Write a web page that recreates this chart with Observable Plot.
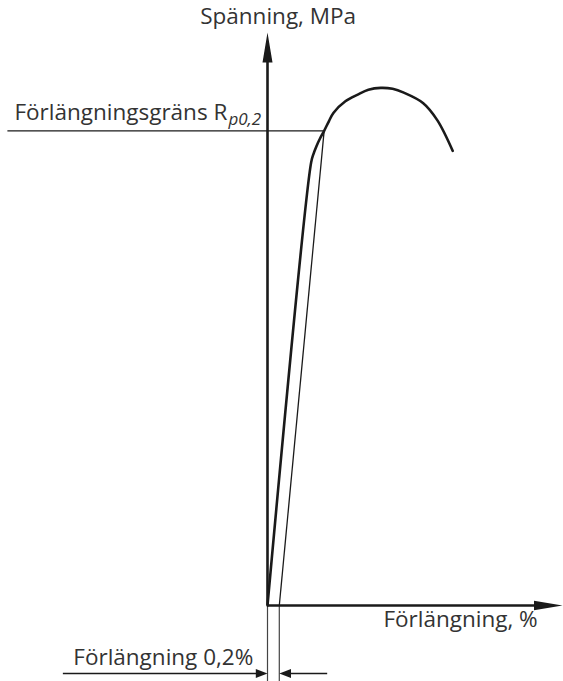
<!DOCTYPE html>
<html>
<head>
<meta charset="utf-8">
<script src="https://cdn.jsdelivr.net/npm/d3@7"></script>
<script src="https://cdn.jsdelivr.net/npm/@observablehq/plot@0.6"></script>
<style>
  html, body { margin: 0; padding: 0; background: #fff; overflow: hidden; }
  #chart svg { display: block; }
</style>
</head>
<body>
<div id="chart"></div>
<script>
// Schematic stress–strain curve with the 0,2 % proof stress construction
const strain = [0, 0.74, 0.78, 0.83, 0.89, 0.96, 1.04, 1.12, 1.32, 1.53, 1.71, 1.92, 2.12, 2.31, 2.64, 2.88, 3.14]; // %
const stress = [0, 464, 473, 481, 489, 497, 507, 516, 528, 535, 540, 542, 541, 537, 526, 508, 476]; // MPa

const offsetStrain = 0.2;   // % plastic offset
const proofStrain = 0.96;   // % where the offset line meets the curve
const proofStress = 497;    // MPa, Rp0,2

const axisMax = {x: 5, y: 600};

const labels = {
  y: "Spänning, MPa",
  x: "Förlängning, %",
  proof: "Förlängningsgräns R",
  proofSub: "p0,2",
  offset: "Förlängning 0,2%"
};

const curve = strain.map((s, i) => ({strain: s, stress: stress[i]}));

// Filled arrowheads: tip at the origin, pointing up
function arrowHead(lengthFactor, widthFactor) {
  return {
    draw(context, size) {
      const r = Math.sqrt(size / Math.PI);
      const L = r * lengthFactor, w = r * widthFactor;
      context.moveTo(0, 0);
      context.lineTo(w, L);
      context.lineTo(-w, L);
      context.closePath();
    }
  };
}
const bigHead = arrowHead(3, 0.5);
const smallHead = arrowHead(1.3, 0.5);

const ink = "#1a1a1a";
const thin = "#444";
const textColor = "#333";
const font = "Open Sans";
const labelSize = 22.5;

const chart = Plot.plot({
  width: 563,
  height: 681,
  marginLeft: 267,
  marginRight: 1,
  marginTop: 32,
  marginBottom: 76,
  x: {domain: [0, axisMax.x], axis: null},
  y: {domain: [0, axisMax.y], axis: null},
  style: {fontFamily: font, background: "#fff"},
  marks: [
    // extension lines for the 0,2 % dimension
    Plot.ruleX([0, offsetStrain], {x: d => d, y1: 0, y2: -82, stroke: thin, strokeWidth: 1.2}),
    // dimension arrows
    Plot.ruleY([-71.2], {x1: -3.46, x2: -0.1, stroke: ink, strokeWidth: 1.3}),
    Plot.ruleY([-71.2], {x1: offsetStrain + 0.1, x2: 1.02, stroke: ink, strokeWidth: 1.3}),
    Plot.dot([0], {x: d => d, y: -71.2, symbol: smallHead, r: 9, rotate: 90, fill: ink, stroke: "none"}),
    Plot.dot([offsetStrain], {x: d => d, y: -71.2, symbol: smallHead, r: 9, rotate: -90, fill: ink, stroke: "none"}),

    // proof stress construction
    Plot.ruleY([proofStress], {x1: -4.4, x2: proofStrain, stroke: ink, strokeWidth: 1.3}),
    Plot.link([{x1: offsetStrain, y1: 0, x2: proofStrain, y2: proofStress}], {
      x1: "x1", y1: "y1", x2: "x2", y2: "y2", stroke: ink, strokeWidth: 1.3
    }),

    // the stress–strain curve
    Plot.line(curve, {x: "strain", y: "stress", curve: "catmull-rom", stroke: ink, strokeWidth: 2.6, strokeLinejoin: "round"}),

    // axes with arrowheads
    Plot.ruleX([0], {y1: 0, y2: axisMax.y - 20, stroke: ink, strokeWidth: 2.6}),
    Plot.ruleY([0], {x1: 0, x2: axisMax.x - 0.3, stroke: ink, strokeWidth: 2.6}),
    Plot.dot([0], {x: 0, y: axisMax.y, symbol: bigHead, r: 10, fill: ink, stroke: "none"}),
    Plot.dot([0], {x: axisMax.x, y: 0, symbol: bigHead, r: 9.5, rotate: 90, fill: ink, stroke: "none"}),

    // labels
    Plot.text([labels.y], {x: 0.18, y: 609, text: d => d, textAnchor: "middle", lineAnchor: "bottom", fontSize: labelSize, fill: textColor}),
    Plot.text([labels.x], {x: 4.58, y: -23, text: d => d, textAnchor: "end", lineAnchor: "bottom", fontSize: labelSize, fill: textColor}),
    Plot.text([labels.offset], {x: -0.24, y: -62.8, text: d => d, textAnchor: "end", lineAnchor: "bottom", fontSize: labelSize, fill: textColor}),
    Plot.text([labels.proof], {x: -0.68, y: 508, text: d => d, textAnchor: "end", lineAnchor: "bottom", fontSize: 22.5, fill: textColor}),
    Plot.text([labels.proofSub], {x: -0.68, y: 503.5, dx: 1, text: d => d, textAnchor: "start", lineAnchor: "bottom", fontSize: 17, fontStyle: "italic", fill: textColor})
  ]
});

document.getElementById("chart").appendChild(chart);
</script>
</body>
</html>
